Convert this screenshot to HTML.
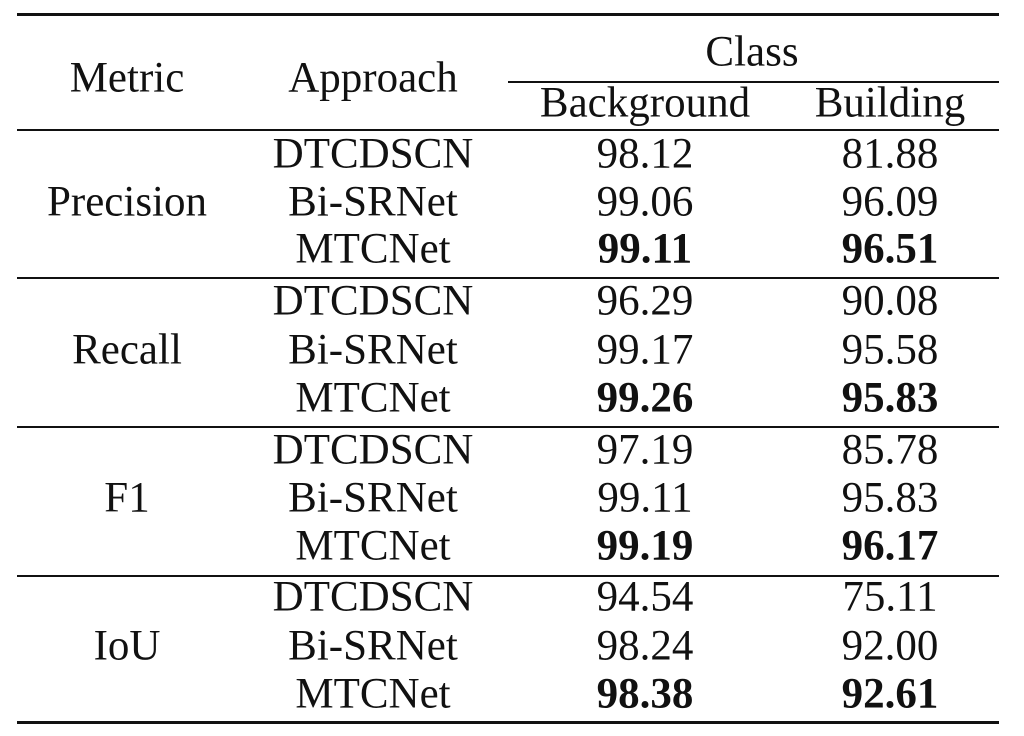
<!DOCTYPE html>
<html><head><meta charset="utf-8"><style>
body{margin:0;background:#fff;width:1024px;height:736px;position:relative;overflow:hidden;font-family:"Liberation Serif",serif;font-size:43px;color:#111}
.t{position:absolute;transform:translate(-50%,-50%);white-space:nowrap;line-height:1}
.b{font-weight:bold}
.r{position:absolute;background:#111;left:17px;width:982px;height:2px}
</style></head><body>
<div class="r" style="top:13px;height:3px"></div>
<div class="r" style="top:81px;left:508px;width:491px"></div>
<div class="r" style="top:129px"></div>
<div class="r" style="top:277px"></div>
<div class="r" style="top:426px"></div>
<div class="r" style="top:575px"></div>
<div class="r" style="top:721px;height:3px"></div>

<div class="t" style="left:752px;top:52px">Class</div>
<div class="t" style="left:127px;top:78px">Metric</div>
<div class="t" style="left:373px;top:78px">Approach</div>
<div class="t" style="left:645px;top:103px">Background</div>
<div class="t" style="left:890px;top:103px">Building</div>

<div class="t" style="left:127px;top:202px">Precision</div>
<div class="t" style="left:127px;top:350px">Recall</div>
<div class="t" style="left:127px;top:498px">F1</div>
<div class="t" style="left:127px;top:646px">IoU</div>

<div class="t" style="left:373px;top:154px">DTCDSCN</div><div class="t" style="left:645px;top:154px">98.12</div><div class="t" style="left:890px;top:154px">81.88</div>
<div class="t" style="left:373px;top:202px">Bi-SRNet</div><div class="t" style="left:645px;top:202px">99.06</div><div class="t" style="left:890px;top:202px">96.09</div>
<div class="t" style="left:373px;top:249px">MTCNet</div><div class="t b" style="left:645px;top:249px">99.11</div><div class="t b" style="left:890px;top:249px">96.51</div>

<div class="t" style="left:373px;top:301px">DTCDSCN</div><div class="t" style="left:645px;top:301px">96.29</div><div class="t" style="left:890px;top:301px">90.08</div>
<div class="t" style="left:373px;top:350px">Bi-SRNet</div><div class="t" style="left:645px;top:350px">99.17</div><div class="t" style="left:890px;top:350px">95.58</div>
<div class="t" style="left:373px;top:398px">MTCNet</div><div class="t b" style="left:645px;top:398px">99.26</div><div class="t b" style="left:890px;top:398px">95.83</div>

<div class="t" style="left:373px;top:450px">DTCDSCN</div><div class="t" style="left:645px;top:450px">97.19</div><div class="t" style="left:890px;top:450px">85.78</div>
<div class="t" style="left:373px;top:498px">Bi-SRNet</div><div class="t" style="left:645px;top:498px">99.11</div><div class="t" style="left:890px;top:498px">95.83</div>
<div class="t" style="left:373px;top:546px">MTCNet</div><div class="t b" style="left:645px;top:546px">99.19</div><div class="t b" style="left:890px;top:546px">96.17</div>

<div class="t" style="left:373px;top:597px">DTCDSCN</div><div class="t" style="left:645px;top:597px">94.54</div><div class="t" style="left:890px;top:597px">75.11</div>
<div class="t" style="left:373px;top:646px">Bi-SRNet</div><div class="t" style="left:645px;top:646px">98.24</div><div class="t" style="left:890px;top:646px">92.00</div>
<div class="t" style="left:373px;top:694px">MTCNet</div><div class="t b" style="left:645px;top:694px">98.38</div><div class="t b" style="left:890px;top:694px">92.61</div>
</body></html>
